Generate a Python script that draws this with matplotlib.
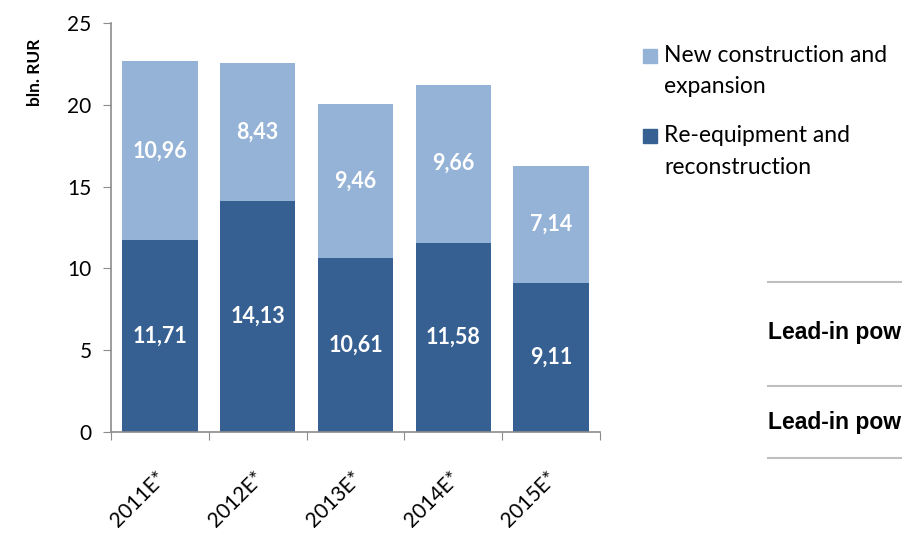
import matplotlib
matplotlib.use("Agg")
import matplotlib.pyplot as plt
from matplotlib.patches import Rectangle
from matplotlib.transforms import ScaledTranslation

# data
years = ["2011E*", "2012E*", "2013E*", "2014E*", "2015E*"]
reequip = [11.71, 14.13, 10.61, 11.58, 9.11]
newcons = [10.96, 8.43, 9.46, 9.66, 7.14]
label_new = ["New construction and", "expansion"]
label_re = ["Re-equipment and", "reconstruction"]
table_rows = ["Lead-in pow", "Lead-in pow"]   # text is cut at the right edge in the source

c_dark = "#376092"
c_light = "#95B3D7"
c_axis = "#8C8C8C"

plt.rcParams['font.family'] = ['Lato', 'DejaVu Sans']

fig = plt.figure(figsize=(9.03, 5.33), dpi=100)
ax = fig.add_axes([111/903, 1-432/533, 489/903, 409/533])

x = list(range(len(years)))
ax.bar(x, reequip, width=0.77, color=c_dark)
ax.bar(x, newcons, width=0.77, bottom=reequip, color=c_light)

for i in x:
    ax.text(i, reequip[i]/2, f"{reequip[i]:.2f}".replace(".", ","), ha="center", va="center",
            color="white", fontsize=15.5, fontweight="bold")
    ax.text(i, reequip[i] + newcons[i]/2, f"{newcons[i]:.2f}".replace(".", ","), ha="center",
            va="center", color="white", fontsize=15.5, fontweight="bold")

ax.set_xlim(-0.5, len(years)-0.5)
ax.set_ylim(0, 25)
ax.set_yticks([0, 5, 10, 15, 20, 25])
ax.set_xticks([i-0.5 for i in range(len(years)+1)])
ax.set_xticklabels([])
ax.set_xticks(x, minor=True)
ax.set_xticklabels(years, minor=True, rotation=45, ha="right", rotation_mode="anchor", fontsize=15)
ax.tick_params(axis="x", which="minor", length=0, pad=26)
ax.tick_params(axis="x", which="major", direction="out", length=6, color=c_axis)
ax.tick_params(axis="y", direction="out", length=6, color=c_axis, labelsize=15, pad=8)
shift = ScaledTranslation(-4/100, 0, fig.dpi_scale_trans)
for lab in ax.get_xticklabels(minor=True):
    lab.set_transform(lab.get_transform() + shift)

for s in ["top", "right"]:
    ax.spines[s].set_visible(False)
for s in ["left", "bottom"]:
    ax.spines[s].set_color(c_axis)
    ax.spines[s].set_linewidth(1.2)

fig.text(35/903, 1-72/533, "bln. RUR", rotation=90, ha="center", va="center",
         fontsize=12.5, fontweight="bold")

# legend drawn by hand at the right
fig.patches.append(Rectangle((643/903, 1-63/533), 14/903, 14/533, color=c_light,
                             transform=fig.transFigure))
fig.text(664/903, 1-56/533, label_new[0], fontsize=16.5, va="center")
fig.text(664/903, 1-87/533, label_new[1], fontsize=16.5, va="center")
fig.patches.append(Rectangle((643/903, 1-143/533), 14/903, 14/533, color=c_dark,
                             transform=fig.transFigure))
fig.text(664/903, 1-136/533, label_re[0], fontsize=16.5, va="center")
fig.text(664/903, 1-167/533, label_re[1], fontsize=16.5, va="center")

# part of a table at the right edge
for yy in [282, 386, 458]:
    fig.add_artist(plt.Line2D([768/903, 1], [1-yy/533, 1-yy/533], color="#BFBFBF", lw=1.5))
for yy, t in zip([333, 422], table_rows):
    fig.text(768/903, 1-yy/533, t, fontsize=16.5, fontweight="bold",
             family="Liberation Sans", va="center")

fig.savefig("out.png", dpi=100)
